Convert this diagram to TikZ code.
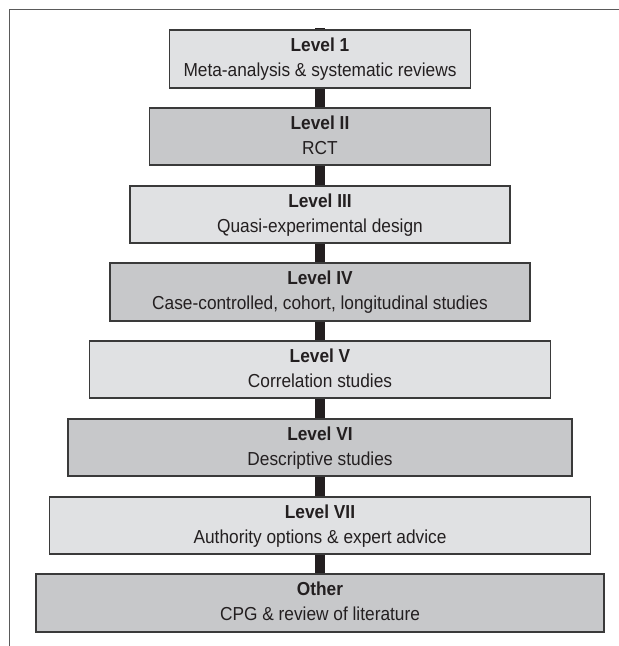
\documentclass[tikz,border=0pt]{standalone}
\usepackage{fontspec}
\setmainfont{Liberation Sans}
\newfontfamily\condfont[FakeStretch=0.92]{Liberation Sans}
\begin{document}
\begin{tikzpicture}[x=1pt,y=-1pt,
  boxbase/.style={draw=boxline,line width=1.6pt,rectangle,inner sep=0pt,minimum height=57.5pt},
  lightbox/.style={boxbase,fill=lightfill},
  darkbox/.style={boxbase,fill=darkfill},
  lvl/.style={anchor=base,inner sep=0pt,text=txt,font=\condfont\fontsize{18.8}{22}\selectfont\bfseries},
  desc/.style={anchor=base,inner sep=0pt,text=txt,font=\condfont\fontsize{18.8}{22}\selectfont},
  bar/.style={draw=txt,line width=10pt,line cap=butt},
  frameline/.style={draw=framecol,line width=1.8pt}]
\definecolor{lightfill}{HTML}{E0E1E3}
\definecolor{darkfill}{HTML}{C7C8CA}
\definecolor{boxline}{HTML}{3A3A3A}
\definecolor{txt}{HTML}{231F20}
\definecolor{framecol}{HTML}{5A5A5A}
\useasboundingbox (0,0) rectangle (619,646);
\fill[white] (0,0) rectangle (619,646);
% frame (open at right and bottom)
\draw[frameline] (9.5,646) -- (9.5,9.5) -- (619,9.5);
% boxes
\node[lightbox,minimum width=301pt] (b1) at (320,59) {};
\node[darkbox,minimum width=341pt] (b2) at (320,136.5) {};
\node[lightbox,minimum width=380pt] (b3) at (320,214.5) {};
\node[darkbox,minimum width=420pt] (b4) at (320,292) {};
\node[lightbox,minimum width=461pt] (b5) at (320,369.5) {};
\node[darkbox,minimum width=504pt] (b6) at (320,447.5) {};
\node[lightbox,minimum width=541pt] (b7) at (320,525.5) {};
\node[darkbox,minimum width=568pt] (b8) at (320,603) {};
% connectors
\coordinate (stub) at (320,28);
\draw[bar] (stub) -- (b1.north);
\draw[bar] (b1.south) -- (b2.north);
\draw[bar] (b2.south) -- (b3.north);
\draw[bar] (b3.south) -- (b4.north);
\draw[bar] (b4.south) -- (b5.north);
\draw[bar] (b5.south) -- (b6.north);
\draw[bar] (b6.south) -- (b7.north);
\draw[bar] (b7.south) -- (b8.north);
% texts
\foreach \b/\t/\d in {b1/Level 1/Meta-analysis \& systematic reviews,
  b2/Level II/RCT,
  b3/Level III/Quasi-experimental design,
  b4/Level IV/{Case-controlled, cohort, longitudinal studies},
  b5/Level V/Correlation studies,
  b6/Level VI/Descriptive studies,
  b7/Level VII/Authority options \& expert advice,
  b8/Other/CPG \& review of literature}{
  \node[lvl] (\b t) at ([yshift=-22.5pt]\b.north) {\t};
  \node[desc] (\b d) at ([yshift=-47.5pt]\b.north) {\d};
}
\end{tikzpicture}
\end{document}
